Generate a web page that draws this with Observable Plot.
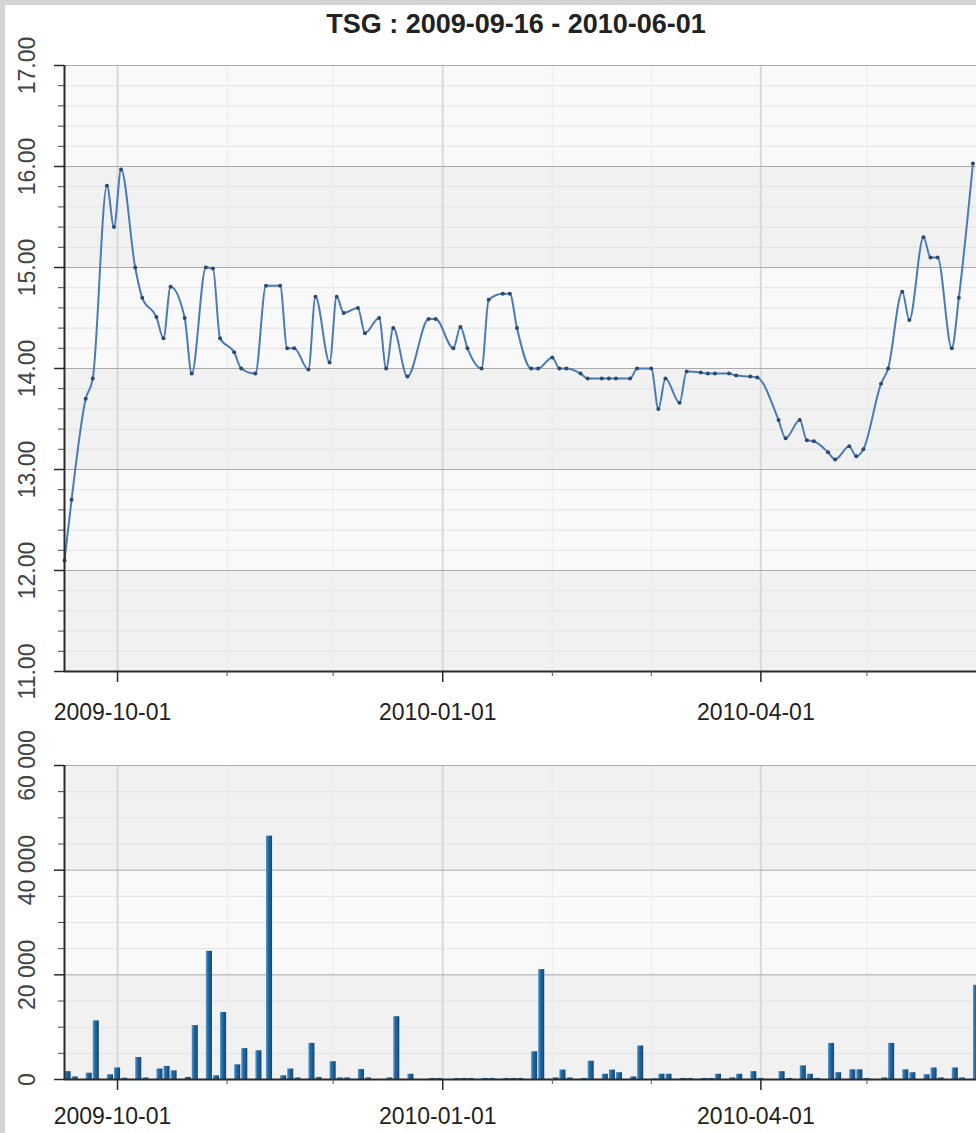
<!DOCTYPE html>
<html><head><meta charset="utf-8">
<script src="https://cdn.jsdelivr.net/npm/d3@7"></script>
<script src="https://cdn.jsdelivr.net/npm/@observablehq/plot@0.6"></script>
<style>
html,body{margin:0;padding:0;width:976px;height:1133px;overflow:hidden;background:#d4d4d4;font-family:"Liberation Sans",Arial,sans-serif;}
#page{position:absolute;left:5px;top:5px;width:971px;height:1128px;background:#fff;}
#title{position:absolute;left:0;top:9px;width:1032px;text-align:center;font:bold 27px "Liberation Sans",Arial,sans-serif;line-height:30px;color:#222;}
#c1{position:absolute;left:0;top:40px;}
#c2{position:absolute;left:0;top:740px;}
</style></head>
<body>
<svg width="0" height="0" style="position:absolute"><defs>
<linearGradient id="barGrad" x1="0" x2="1" y1="0" y2="0">
<stop offset="0" stop-color="#5a9ad0"/><stop offset="0.35" stop-color="#236ba4"/><stop offset="1" stop-color="#134672"/>
</linearGradient></defs></svg>
<div id="page"></div>
<div id="title">TSG : 2009-09-16 - 2010-06-01</div>
<div id="c1"></div>
<div id="c2"></div>
<script>
// ---------- data ----------
const domainStart = "2009-09-16";
const domainEnd = "2010-06-01";

const lineDates = ["2009-09-16","2009-09-18","2009-09-22","2009-09-24","2009-09-28","2009-09-30","2009-10-02","2009-10-06","2009-10-08","2009-10-12","2009-10-14","2009-10-16","2009-10-20","2009-10-22","2009-10-26","2009-10-28","2009-10-30","2009-11-03","2009-11-05","2009-11-09","2009-11-12","2009-11-16","2009-11-18","2009-11-20","2009-11-24","2009-11-26","2009-11-30","2009-12-02","2009-12-04","2009-12-08","2009-12-10","2009-12-14","2009-12-16","2009-12-18","2009-12-22","2009-12-28","2009-12-30","2010-01-04","2010-01-06","2010-01-08","2010-01-12","2010-01-14","2010-01-18","2010-01-20","2010-01-22","2010-01-26","2010-01-28","2010-02-01","2010-02-03","2010-02-05","2010-02-09","2010-02-11","2010-02-15","2010-02-17","2010-02-19","2010-02-23","2010-02-25","2010-03-01","2010-03-03","2010-03-05","2010-03-09","2010-03-11","2010-03-15","2010-03-17","2010-03-19","2010-03-23","2010-03-25","2010-03-29","2010-03-31","2010-04-06","2010-04-08","2010-04-12","2010-04-14","2010-04-16","2010-04-20","2010-04-22","2010-04-26","2010-04-28","2010-04-30","2010-05-05","2010-05-07","2010-05-11","2010-05-13","2010-05-17","2010-05-19","2010-05-21","2010-05-25","2010-05-27","2010-05-31"];
const lineValues = [12.1,12.7,13.7,13.9,15.81,15.4,15.97,15.0,14.7,14.51,14.3,14.81,14.5,13.95,15.0,14.99,14.3,14.16,14.0,13.95,14.82,14.82,14.2,14.2,13.99,14.71,14.06,14.71,14.55,14.6,14.35,14.5,14.0,14.4,13.92,14.49,14.49,14.2,14.41,14.2,14.0,14.68,14.74,14.74,14.4,14.0,14.0,14.11,14.0,14.0,13.95,13.9,13.9,13.9,13.9,13.9,14.0,14.0,13.6,13.9,13.66,13.97,13.96,13.95,13.95,13.95,13.93,13.92,13.91,13.49,13.31,13.49,13.29,13.28,13.17,13.1,13.23,13.13,13.2,13.85,14.0,14.76,14.48,15.3,15.1,15.1,14.2,14.7,16.03];

const barDates = ["2009-09-16","2009-09-18","2009-09-22","2009-09-24","2009-09-28","2009-09-30","2009-10-02","2009-10-06","2009-10-08","2009-10-12","2009-10-14","2009-10-16","2009-10-20","2009-10-22","2009-10-26","2009-10-28","2009-10-30","2009-11-03","2009-11-05","2009-11-09","2009-11-12","2009-11-16","2009-11-18","2009-11-20","2009-11-24","2009-11-26","2009-11-30","2009-12-02","2009-12-04","2009-12-08","2009-12-10","2009-12-16","2009-12-18","2009-12-22","2009-12-28","2009-12-30","2010-01-04","2010-01-06","2010-01-08","2010-01-12","2010-01-14","2010-01-18","2010-01-20","2010-01-22","2010-01-26","2010-01-28","2010-02-01","2010-02-03","2010-02-05","2010-02-09","2010-02-11","2010-02-15","2010-02-17","2010-02-19","2010-02-23","2010-02-25","2010-03-01","2010-03-03","2010-03-05","2010-03-09","2010-03-11","2010-03-15","2010-03-17","2010-03-19","2010-03-23","2010-03-25","2010-03-29","2010-03-31","2010-04-06","2010-04-08","2010-04-12","2010-04-14","2010-04-16","2010-04-20","2010-04-22","2010-04-26","2010-04-28","2010-04-30","2010-05-05","2010-05-07","2010-05-11","2010-05-13","2010-05-17","2010-05-19","2010-05-21","2010-05-25","2010-05-27","2010-05-31"];
const barValues = [1500,500,1200,11200,900,2200,250,4200,300,2000,2500,1650,400,10300,24500,700,12800,2800,5900,5500,46500,700,2000,300,6900,400,3400,300,300,1900,300,300,12000,1000,200,200,200,200,200,200,200,200,200,200,5300,21000,300,1800,300,200,3500,1000,1800,1300,500,6400,100,1000,1000,200,200,200,200,1000,300,1000,1500,200,1500,200,2600,1000,200,6900,1300,1850,1850,200,300,6900,1850,1300,900,2200,300,2200,300,18000];

const xMajorTicks = ["2009-10-01","2010-01-01","2010-04-01"];
const xMajorLabels = ["2009-10-01","2010-01-01","2010-04-01"];
const xMinorTicks = ["2009-11-01","2009-12-01","2010-02-01","2010-03-01","2010-05-01"];

const topMajorTicks = [11,12,13,14,15,16,17];
const topMajorLabels = ["11.00","12.00","13.00","14.00","15.00","16.00","17.00"];
const topDarkBands = [[11,12],[13,14],[15,16]];
const botMajorTicks = [0,20000,40000,60000];
const botMajorLabels = ["0","20 000","40 000","60 000"];
const botDarkBands = [[0,20000],[40000,60000]];

// ---------- derived ----------
const D = s => new Date(s);
const xDomain = [D(domainStart), D(domainEnd)];
const line = lineDates.map((d,i)=>({date:D(d), value:lineValues[i]}));
const bars = barDates.map((d,i)=>({date:D(d), value:barValues[i]}));
const xMaj = xMajorTicks.map(D), xMin = xMinorTicks.map(D);
const topMinor = d3.range(55, 85).map(k=>k/5).filter(v=>!topMajorTicks.includes(v) && v<17);
const botMinor = d3.range(0, 60001, 5000).filter(v=>!botMajorTicks.includes(v));

const FONT = "Liberation Sans, Arial, sans-serif";
const W = 976, ML = 64, MR = 0;

function commonMarks(yMaj, yMin, dark){
  return [
    Plot.frame({fill:"#f9f9f9", stroke:null}),
    Plot.rect(dark, {x1: ()=>xDomain[0], x2: ()=>xDomain[1], y1: d=>d[0], y2: d=>d[1], fill:"#f1f1f1"}),
    Plot.ruleY(yMin, {stroke:"#e3e3e3", strokeWidth:1}),
    Plot.ruleX(xMin, {stroke:"#ebebeb", strokeWidth:1}),
    Plot.ruleX(xMaj, {stroke:"#d9d9d9", strokeWidth:2}),
    Plot.ruleY(yMaj, {stroke:"#ababab", strokeWidth:1}),
  ];
}
function axisMarks(yMaj, yMin, yLabels, ymin, labelDy){
  return [
    Plot.ruleX([xDomain[0]], {stroke:"#2a2a2a", strokeWidth:2}),
    Plot.ruleY([ymin], {stroke:"#2a2a2a", strokeWidth:2}),
    Plot.axisY(yMaj, {tickSize:10, tickFormat:()=>"", stroke:"#2a2a2a", strokeWidth:1.5, label:null}),
    Plot.axisY(yMin, {tickSize:6, tickFormat:()=>"", stroke:"#444", label:null}),
    Plot.axisX(xMaj, {tickSize:11, tickFormat:()=>"", stroke:"#2a2a2a", strokeWidth:1.5, label:null}),
    Plot.axisX(xMin, {tickSize:5, tickFormat:()=>"", stroke:"#555", label:null}),
    Plot.text(yMaj, {y:d=>d, text:(d,i)=>yLabels[i], frameAnchor:"left", dx:-37, rotate:-90,
      textAnchor:"middle", lineAnchor:"middle", fontSize:23, fill:"#444", fontFamily:FONT}),
    Plot.text(xMaj, {x:d=>d, text:(d,i)=>xMajorLabels[i], frameAnchor:"bottom", dy:labelDy, dx:-5,
      textAnchor:"middle", lineAnchor:"middle", fontSize:23, fill:"#222", fontFamily:FONT})
  ];
}

const p1 = Plot.plot({
  width: W, height: 700, marginLeft: ML, marginRight: MR, marginTop: 25, marginBottom: 69,
  style: {background:"transparent", fontFamily: FONT, overflow:"visible"},
  x: {type:"utc", domain: xDomain, label: null},
  y: {domain:[11,17], label: null},
  marks: [
    ...commonMarks(topMajorTicks, topMinor, topDarkBands),
    Plot.line(line, {x:"date", y:"value", curve:"monotone-x", stroke:"#4a7bb8", strokeWidth:2}),
    Plot.dot(line, {x:"date", y:"value", r:2, fill:"#2b4a72", stroke:null}),
    ...axisMarks(topMajorTicks, topMinor, topMajorLabels, 11, 41.5)
  ]
});
document.getElementById("c1").appendChild(p1);

const p2 = Plot.plot({
  width: W, height: 393, marginLeft: ML, marginRight: MR, marginTop: 25, marginBottom: 54,
  style: {background:"transparent", fontFamily: FONT, overflow:"visible"},
  x: {type:"utc", domain: xDomain, label: null},
  y: {domain:[0,60000], label: null},
  marks: [
    ...commonMarks(botMajorTicks, botMinor, botDarkBands),
    Plot.rectY(bars, {x1:"date", x2:d=>d3.utcDay.offset(d.date, 2), y:"value", fill:"url(#barGrad)", insetLeft:0.5, insetRight:0.5}),
    ...axisMarks(botMajorTicks, botMinor, botMajorLabels, 0, 37.5)
  ]
});
document.getElementById("c2").appendChild(p2);
</script>
</body></html>
